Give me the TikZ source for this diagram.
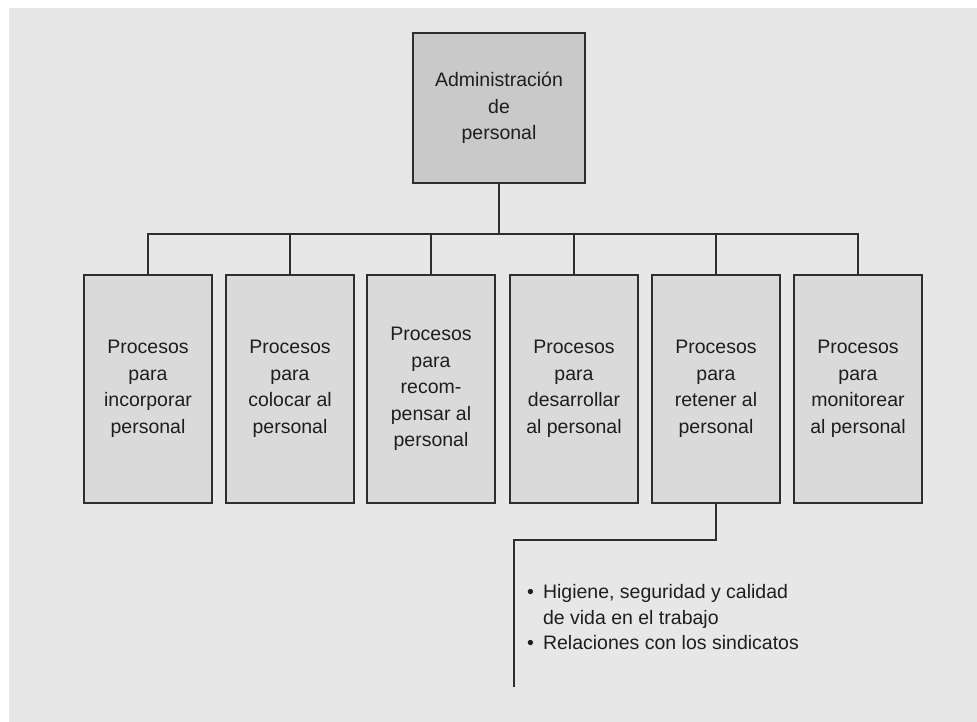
\documentclass[tikz,border=0pt]{standalone}
\usepackage{fontspec}
\setmainfont{Liberation Sans}
\usetikzlibrary{positioning}
\definecolor{fondo}{HTML}{E7E7E7}
\definecolor{caja}{HTML}{DADADA}
\definecolor{cajatop}{HTML}{C9C9C9}
\definecolor{linea}{HTML}{2E2E2E}
\definecolor{texto}{HTML}{1E1E1E}
\begin{document}
\begin{tikzpicture}[x=1pt,y=-1pt,
    proceso/.style={draw=linea, line width=1.6pt, fill=caja, text=texto,
        minimum width=128pt, minimum height=228pt, inner sep=0pt,
        align=center, font=\fontsize{19.5}{26.5}\selectfont},
    jefe/.style={proceso, fill=cajatop, minimum width=172pt, minimum height=150pt},
    conector/.style={draw=linea, line width=1.6pt}]
    % fondo y margenes
    \fill[white] (0,0) rectangle (977,722);
    \fill[fondo] (9,8) rectangle (977,722);
    \useasboundingbox (0,0) rectangle (977,722);

    \node[jefe] (admin) at (499,108) {Administración\\de\\personal};

    \node[proceso] (incorporar) at (148,389) {Procesos\\para\\incorporar\\personal};
    \node[proceso] (colocar) at (290,389) {Procesos\\para\\colocar al\\personal};
    \node[proceso] (recompensar) at (431,389) {Procesos\\para\\recom-\\pensar al\\personal};
    \node[proceso] (desarrollar) at (574,389) {Procesos\\para\\desarrollar\\al personal};
    \node[proceso] (retener) at (716,389) {Procesos\\para\\retener al\\personal};
    \node[proceso] (monitorear) at (858,389) {Procesos\\para\\monitorear\\al personal};

    \coordinate (barra) at (499,234);
    \draw[conector] (admin) -- (barra);
    \draw[conector] (incorporar.north) |- (barra) -| (monitorear.north);
    \draw[conector] (colocar.north) -- (colocar.north |- barra);
    \draw[conector] (recompensar.north) -- (recompensar.north |- barra);
    \draw[conector] (desarrollar.north) -- (desarrollar.north |- barra);
    \draw[conector] (retener.north) -- (retener.north |- barra);

    % rama de retener
    \coordinate (codo) at (514,540);
    \coordinate (cola) at (514,687);
    \draw[conector] (retener.south) |- (codo) -- (cola);

    \node[anchor=west, inner sep=0pt, text=texto,
        font=\fontsize{19.5}{25.5}\selectfont] (lista) at (527,619)
        {\begin{tabular}{@{}l@{\hspace{9pt}}l@{}}
            \textbullet & Higiene, seguridad y calidad\\
                        & de vida en el trabajo\\
            \textbullet & Relaciones con los sindicatos
        \end{tabular}};
\end{tikzpicture}
\end{document}
